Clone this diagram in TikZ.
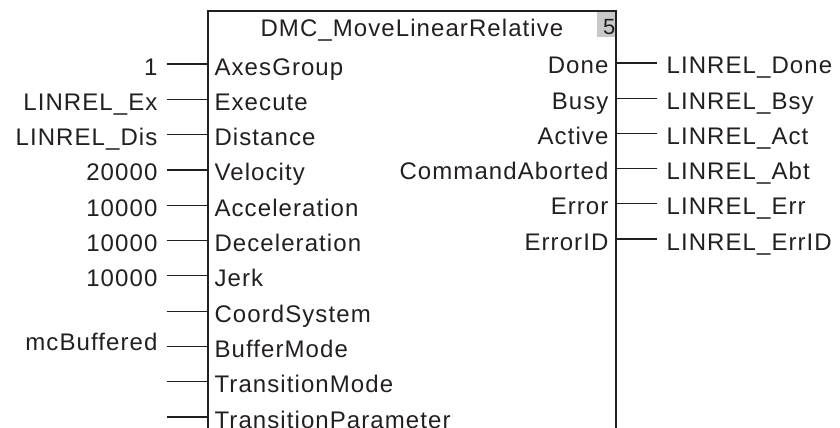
\documentclass[tikz,border=0pt]{standalone}
\usepackage{fontspec}
\setmainfont[LetterSpace=4.5]{Liberation Sans}
\definecolor{ink}{HTML}{231F20}
\definecolor{tag}{HTML}{C8C8C8}

\begin{document}
\begin{tikzpicture}[x=1pt, y=-1pt, line width=1.2pt, draw=ink,
  every node/.style={font=\fontsize{24}{28}\selectfont, text=ink, inner sep=0pt,
    text height=22pt, text depth=0pt},
  inpin/.style={anchor=west, inner xsep=6pt},
  invalue/.style={anchor=east, inner xsep=9pt},
  outpin/.style={anchor=east, inner xsep=7pt},
  outvalue/.style={anchor=west, inner xsep=9pt}]
  \useasboundingbox (0,0) rectangle (840,428);

  % Function block, open at the bottom
  \fill[tag] (597,11) rectangle (616,37.5);
  \draw (208,428) -- (208,11) -- (616,11) -- (616,428);
  \node (title) at (412,26) {DMC\_MoveLinearRelative};
  \node[anchor=east, font=\fontsize{22}{24}\selectfont, text height=20pt] (count) at (616,25) {5};

  % Inputs (last field lifts the value text)
  \foreach \pin/\val/\dy [count=\i from 0] in {AxesGroup/1/0, Execute/LINREL\_Ex/0,
      Distance/LINREL\_Dis/0, Velocity/20000/0, Acceleration/10000/0,
      Deceleration/10000/0, Jerk/10000/0, CoordSystem/{}/0,
      BufferMode/mcBuffered/7, TransitionMode/{}/0, TransitionParameter/{}/0} {
    \node[inpin] (in\i) at (208,64+35.3*\i) {\pin};
    \node[invalue, text depth=2*\dy pt] (arg\i) at (167,64+35.3*\i) {\val};
    \draw (arg\i.east) -- (in\i.west);
  }

  % Outputs
  \foreach \pin/\val [count=\j from 0] in {Done/LINREL\_Done, Busy/LINREL\_Bsy,
      Active/LINREL\_Act, CommandAborted/LINREL\_Abt, Error/LINREL\_Err,
      ErrorID/LINREL\_ErrID} {
    \node[outpin] (out\j) at (616,63+35.2*\j) {\pin};
    \node[outvalue] (res\j) at (657,63+35.2*\j) {\val};
    \draw (out\j.east) -- (res\j.west);
  }
\end{tikzpicture}
\end{document}
